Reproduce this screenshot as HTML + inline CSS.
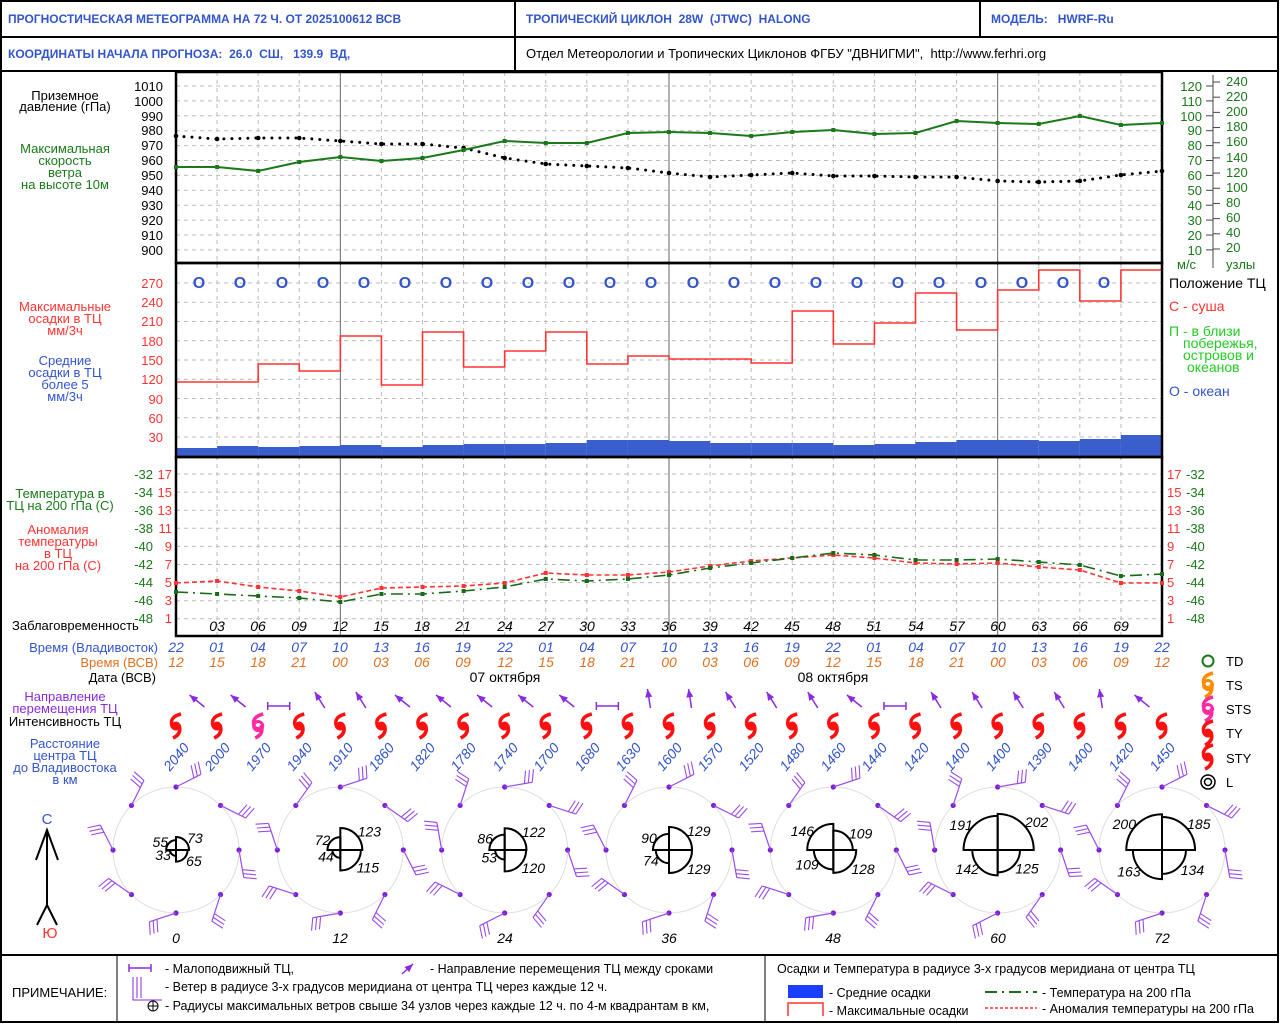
<!DOCTYPE html>
<html><head><meta charset="utf-8"><style>
body{margin:0;background:#fff}
svg{display:block;font-family:"Liberation Sans",sans-serif}
text{white-space:pre}
.b{fill:#3355cc}.g{fill:#1a7a1a}.r{fill:#ff3333}.o{fill:#e07020}.p{fill:#8a2be2}.k{fill:#000}
.hd{font-size:12px;font-weight:bold}
.t{font-size:13px}
.e{text-anchor:end}.m{text-anchor:middle}
.i{font-style:italic;font-size:14px}
</style></head><body>
<svg id="s" width="1280" height="1024" viewBox="0 0 1280 1024" xmlns="http://www.w3.org/2000/svg" xml:space="preserve">
<rect x="1" y="1" width="1277" height="1021" fill="#fff" stroke="#000" stroke-width="2"/>
<line x1="0" y1="37" x2="1278" y2="37" stroke="#000" stroke-width="2"/>
<line x1="0" y1="71" x2="1278" y2="71" stroke="#000" stroke-width="2"/>
<line x1="515" y1="0" x2="515" y2="71" stroke="#000" stroke-width="2"/>
<line x1="980" y1="0" x2="980" y2="37" stroke="#000" stroke-width="2"/>
<line x1="0" y1="955" x2="1278" y2="955" stroke="#000" stroke-width="2"/>
<line x1="117" y1="955" x2="117" y2="1022" stroke="#000" stroke-width="1"/>
<line x1="765" y1="955" x2="765" y2="1022" stroke="#000" stroke-width="1"/>
<text x="8" y="23" class="hd b">ПРОГНОСТИЧЕСКАЯ МЕТЕОГРАММА НА 72 Ч. ОТ 2025100612 ВСВ</text>
<text x="526" y="23" class="hd b">ТРОПИЧЕСКИЙ ЦИКЛОН  28W  (JTWC)  HALONG</text>
<text x="991" y="23" class="hd b">МОДЕЛЬ:   HWRF-Ru</text>
<text x="8" y="58" class="hd b">КООРДИНАТЫ НАЧАЛА ПРОГНОЗА:  26.0  СШ,   139.9  ВД,</text>
<text x="526" y="58" class="k" font-size="13">Отдел Метеорологии и Тропических Циклонов ФГБУ "ДВНИГМИ",  http://www.ferhri.org</text>
<g id="grid"></g>
<g class="t">
<text x="65" y="100" class="m k">Приземное</text><text x="65" y="111" class="m k">давление (гПа)</text>
<text x="65" y="153" class="m g">Максимальная</text><text x="65" y="165" class="m g">скорость</text><text x="65" y="177" class="m g">ветра</text><text x="65" y="189" class="m g">на высоте 10м</text>
<text x="163" y="91" class="e k">1010</text><text x="163" y="106" class="e k">1000</text><text x="163" y="121" class="e k">990</text><text x="163" y="135" class="e k">980</text><text x="163" y="150" class="e k">970</text><text x="163" y="165" class="e k">960</text><text x="163" y="180" class="e k">950</text><text x="163" y="195" class="e k">940</text><text x="163" y="210" class="e k">930</text><text x="163" y="225" class="e k">920</text><text x="163" y="240" class="e k">910</text><text x="163" y="255" class="e k">900</text>
<text x="1202" y="91" class="e g">120</text><text x="1202" y="106" class="e g">110</text><text x="1202" y="121" class="e g">100</text><text x="1202" y="135" class="e g">90</text><text x="1202" y="150" class="e g">80</text><text x="1202" y="165" class="e g">70</text><text x="1202" y="180" class="e g">60</text><text x="1202" y="195" class="e g">50</text><text x="1202" y="210" class="e g">40</text><text x="1202" y="225" class="e g">30</text><text x="1202" y="240" class="e g">20</text><text x="1202" y="255" class="e g">10</text>
<text x="1226" y="86" class="g">240</text><text x="1226" y="101" class="g">220</text><text x="1226" y="116" class="g">200</text><text x="1226" y="131" class="g">180</text><text x="1226" y="146" class="g">160</text><text x="1226" y="162" class="g">140</text><text x="1226" y="177" class="g">120</text><text x="1226" y="192" class="g">100</text><text x="1226" y="207" class="g">80</text><text x="1226" y="222" class="g">60</text><text x="1226" y="237" class="g">40</text><text x="1226" y="252" class="g">20</text>
<text x="1177" y="269" class="g">м/с</text><text x="1226" y="269" class="g">узлы</text>
<text x="1169" y="288" class="k" font-size="14">Положение ТЦ</text>
<text x="1169" y="311" class="r" font-size="14">С - суша</text>
<text x="1169" y="336" fill="#22cc22" font-size="14">П - в близи</text>
<text x="1183" y="348" fill="#22cc22" font-size="14">побережья,</text>
<text x="1183" y="360" fill="#22cc22" font-size="14">островов и</text>
<text x="1187" y="372" fill="#22cc22" font-size="14">океанов</text>
<text x="1169" y="396" class="b" font-size="14">О - океан</text>
<text x="65" y="311" class="m r">Максимальные</text><text x="65" y="323" class="m r">осадки в ТЦ</text><text x="65" y="335" class="m r">мм/3ч</text>
<text x="65" y="365" class="m b">Средние</text><text x="65" y="377" class="m b">осадки в ТЦ</text><text x="65" y="389" class="m b">более 5</text><text x="65" y="401" class="m b">мм/3ч</text>
<text x="163" y="288" class="e r">270</text><text x="163" y="307" class="e r">240</text><text x="163" y="326" class="e r">210</text><text x="163" y="346" class="e r">180</text><text x="163" y="365" class="e r">150</text><text x="163" y="384" class="e r">120</text><text x="163" y="404" class="e r">90</text><text x="163" y="423" class="e r">60</text><text x="163" y="442" class="e r">30</text>
<text x="60" y="498" class="m g">Температура в</text><text x="60" y="510" class="m g">ТЦ на 200 гПа (С)</text>
<text x="58" y="534" class="m r">Аномалия</text><text x="58" y="546" class="m r">температуры</text><text x="58" y="558" class="m r">в ТЦ</text><text x="58" y="570" class="m r">на 200 гПа (С)</text>
<text x="12" y="630" class="k">Заблаговременность</text>
<text x="158" y="652" class="e b">Время (Владивосток)</text>
<text x="158" y="667" class="e o">Время (ВСВ)</text>
<text x="156" y="682" class="e k">Дата (ВСВ)</text>
<text x="505" y="682" class="m k" font-size="14">07 октября</text>
<text x="833" y="682" class="m k" font-size="14">08 октября</text>
<text x="65" y="701" class="m p">Направление</text><text x="65" y="713" class="m p">перемещения ТЦ</text>
<text x="65" y="726" class="m k">Интенсивность ТЦ</text>
<text x="65" y="748" class="m b">Расстояние</text><text x="65" y="760" class="m b">центра ТЦ</text><text x="65" y="772" class="m b">до Владивостока</text><text x="65" y="784" class="m b">в км</text>
<text x="1226" y="666" class="k">TD</text><text x="1226" y="690" class="k">TS</text><text x="1226" y="714" class="k">STS</text><text x="1226" y="738" class="k">TY</text><text x="1226" y="763" class="k">STY</text><text x="1226" y="787" class="k">L</text>
<text x="47" y="824" class="m b" font-size="15">С</text>
<text x="50" y="938" class="m r" font-size="15">Ю</text>
<text x="12" y="997" class="k">ПРИМЕЧАНИЕ:</text>
<text x="165" y="973" class="k" font-size="12.5">- Малоподвижный ТЦ,</text>
<text x="430" y="973" class="k" font-size="12.5">- Направление перемещения ТЦ между сроками</text>
<text x="165" y="991" class="k" font-size="12.5">- Ветер в радиусе 3-х градусов меридиана от центра ТЦ через каждые 12 ч.</text>
<text x="165" y="1010" class="k" font-size="12.5">- Радиусы максимальных ветров свыше 34 узлов через каждые 12 ч. по 4-м квадрантам в км,</text>
<text x="777" y="973" class="k" font-size="12.5">Осадки и Температура в радиусе 3-х градусов меридиана от центра ТЦ</text>
<text x="829" y="997" class="k" font-size="12.5">- Средние осадки</text>
<text x="829" y="1015" class="k" font-size="12.5">- Максимальные осадки</text>
<text x="1042" y="997" class="k" font-size="12.5">- Температура на 200 гПа</text>
<text x="1042" y="1013" class="k" font-size="12.5">- Аномалия температуры на 200 гПа</text>
</g>
<g class="i" id="lbls">
<text x="217" y="631" class="m k">03</text><text x="258" y="631" class="m k">06</text><text x="299" y="631" class="m k">09</text><text x="340" y="631" class="m k">12</text><text x="381" y="631" class="m k">15</text><text x="422" y="631" class="m k">18</text><text x="463" y="631" class="m k">21</text><text x="505" y="631" class="m k">24</text><text x="546" y="631" class="m k">27</text><text x="587" y="631" class="m k">30</text><text x="628" y="631" class="m k">33</text><text x="669" y="631" class="m k">36</text><text x="710" y="631" class="m k">39</text><text x="751" y="631" class="m k">42</text><text x="792" y="631" class="m k">45</text><text x="833" y="631" class="m k">48</text><text x="874" y="631" class="m k">51</text><text x="916" y="631" class="m k">54</text><text x="957" y="631" class="m k">57</text><text x="998" y="631" class="m k">60</text><text x="1039" y="631" class="m k">63</text><text x="1080" y="631" class="m k">66</text><text x="1121" y="631" class="m k">69</text>
<text x="176" y="652" class="m b">22</text><text x="217" y="652" class="m b">01</text><text x="258" y="652" class="m b">04</text><text x="299" y="652" class="m b">07</text><text x="340" y="652" class="m b">10</text><text x="381" y="652" class="m b">13</text><text x="422" y="652" class="m b">16</text><text x="463" y="652" class="m b">19</text><text x="505" y="652" class="m b">22</text><text x="546" y="652" class="m b">01</text><text x="587" y="652" class="m b">04</text><text x="628" y="652" class="m b">07</text><text x="669" y="652" class="m b">10</text><text x="710" y="652" class="m b">13</text><text x="751" y="652" class="m b">16</text><text x="792" y="652" class="m b">19</text><text x="833" y="652" class="m b">22</text><text x="874" y="652" class="m b">01</text><text x="916" y="652" class="m b">04</text><text x="957" y="652" class="m b">07</text><text x="998" y="652" class="m b">10</text><text x="1039" y="652" class="m b">13</text><text x="1080" y="652" class="m b">16</text><text x="1121" y="652" class="m b">19</text><text x="1162" y="652" class="m b">22</text>
<text x="176" y="667" class="m o">12</text><text x="217" y="667" class="m o">15</text><text x="258" y="667" class="m o">18</text><text x="299" y="667" class="m o">21</text><text x="340" y="667" class="m o">00</text><text x="381" y="667" class="m o">03</text><text x="422" y="667" class="m o">06</text><text x="463" y="667" class="m o">09</text><text x="505" y="667" class="m o">12</text><text x="546" y="667" class="m o">15</text><text x="587" y="667" class="m o">18</text><text x="628" y="667" class="m o">21</text><text x="669" y="667" class="m o">00</text><text x="710" y="667" class="m o">03</text><text x="751" y="667" class="m o">06</text><text x="792" y="667" class="m o">09</text><text x="833" y="667" class="m o">12</text><text x="874" y="667" class="m o">15</text><text x="916" y="667" class="m o">18</text><text x="957" y="667" class="m o">21</text><text x="998" y="667" class="m o">00</text><text x="1039" y="667" class="m o">03</text><text x="1080" y="667" class="m o">06</text><text x="1121" y="667" class="m o">09</text><text x="1162" y="667" class="m o">12</text>
<text transform="translate(180,760) rotate(-50)" class="m b">2040</text><text transform="translate(221,760) rotate(-50)" class="m b">2000</text><text transform="translate(262,760) rotate(-50)" class="m b">1970</text><text transform="translate(303,760) rotate(-50)" class="m b">1940</text><text transform="translate(344,760) rotate(-50)" class="m b">1910</text><text transform="translate(385,760) rotate(-50)" class="m b">1860</text><text transform="translate(426,760) rotate(-50)" class="m b">1820</text><text transform="translate(467,760) rotate(-50)" class="m b">1780</text><text transform="translate(509,760) rotate(-50)" class="m b">1740</text><text transform="translate(550,760) rotate(-50)" class="m b">1700</text><text transform="translate(591,760) rotate(-50)" class="m b">1680</text><text transform="translate(632,760) rotate(-50)" class="m b">1630</text><text transform="translate(673,760) rotate(-50)" class="m b">1600</text><text transform="translate(714,760) rotate(-50)" class="m b">1570</text><text transform="translate(755,760) rotate(-50)" class="m b">1520</text><text transform="translate(796,760) rotate(-50)" class="m b">1480</text><text transform="translate(837,760) rotate(-50)" class="m b">1460</text><text transform="translate(878,760) rotate(-50)" class="m b">1440</text><text transform="translate(920,760) rotate(-50)" class="m b">1420</text><text transform="translate(961,760) rotate(-50)" class="m b">1400</text><text transform="translate(1002,760) rotate(-50)" class="m b">1400</text><text transform="translate(1043,760) rotate(-50)" class="m b">1390</text><text transform="translate(1084,760) rotate(-50)" class="m b">1400</text><text transform="translate(1125,760) rotate(-50)" class="m b">1420</text><text transform="translate(1166,760) rotate(-50)" class="m b">1450</text>
<text x="176" y="943" class="m k">0</text><text x="340" y="943" class="m k">12</text><text x="505" y="943" class="m k">24</text><text x="669" y="943" class="m k">36</text><text x="833" y="943" class="m k">48</text><text x="998" y="943" class="m k">60</text><text x="1162" y="943" class="m k">72</text>
</g>
<g font-size="16" font-weight="bold" class="b m">
<text x="199" y="288">O</text><text x="240" y="288">O</text><text x="282" y="288">O</text><text x="323" y="288">O</text><text x="364" y="288">O</text><text x="405" y="288">O</text><text x="446" y="288">O</text><text x="487" y="288">O</text><text x="528" y="288">O</text><text x="569" y="288">O</text><text x="610" y="288">O</text><text x="651" y="288">O</text><text x="693" y="288">O</text><text x="734" y="288">O</text><text x="775" y="288">O</text><text x="816" y="288">O</text><text x="857" y="288">O</text><text x="898" y="288">O</text><text x="939" y="288">O</text><text x="981" y="288">O</text><text x="1022" y="288">O</text><text x="1063" y="288">O</text><text x="1104" y="288">O</text>
</g>
<g class="t" id="tt">
<text x="153" y="479" class="e g">-32</text><text x="153" y="497" class="e g">-34</text><text x="153" y="515" class="e g">-36</text><text x="153" y="533" class="e g">-38</text><text x="153" y="551" class="e g">-40</text><text x="153" y="569" class="e g">-42</text><text x="153" y="587" class="e g">-44</text><text x="153" y="605" class="e g">-46</text><text x="153" y="623" class="e g">-48</text>
<text x="172" y="479" class="e r">17</text><text x="172" y="497" class="e r">15</text><text x="172" y="515" class="e r">13</text><text x="172" y="533" class="e r">11</text><text x="172" y="551" class="e r">9</text><text x="172" y="569" class="e r">7</text><text x="172" y="587" class="e r">5</text><text x="172" y="605" class="e r">3</text><text x="172" y="623" class="e r">1</text>
<text x="1167" y="479" class="r">17</text><text x="1167" y="497" class="r">15</text><text x="1167" y="515" class="r">13</text><text x="1167" y="533" class="r">11</text><text x="1167" y="551" class="r">9</text><text x="1167" y="569" class="r">7</text><text x="1167" y="587" class="r">5</text><text x="1167" y="605" class="r">3</text><text x="1167" y="623" class="r">1</text>
<text x="1186" y="479" class="g">-32</text><text x="1186" y="497" class="g">-34</text><text x="1186" y="515" class="g">-36</text><text x="1186" y="533" class="g">-38</text><text x="1186" y="551" class="g">-40</text><text x="1186" y="569" class="g">-42</text><text x="1186" y="587" class="g">-44</text><text x="1186" y="605" class="g">-46</text><text x="1186" y="623" class="g">-48</text>
</g>
<g class="i" id="rad"></g>
</svg>
<script>
const S=document.getElementById('grid'),NS='http://www.w3.org/2000/svg';
function el(t,a,p){const e=document.createElementNS(NS,t);for(const k in a)e.setAttribute(k,a[k]);(p||S).appendChild(e);return e;}
const X=h=>176+h*986/72;
const dash={stroke:'#bbb','stroke-dasharray':'4,4','stroke-width':1};
function hl(y){el('line',Object.assign({x1:176,x2:1162,y1:y,y2:y},dash));}
for(let k=0;k<12;k++)hl(86+14.9*k);
for(let k=0;k<9;k++)hl(283+19.25*k);
for(let k=0;k<9;k++)hl(474+18.1*k);
for(let h=3;h<72;h+=3){const x=X(h);if(h%24==12)el('line',{x1:x,x2:x,y1:72,y2:636,stroke:'#666','stroke-width':1});else el('line',Object.assign({x1:x,x2:x,y1:72,y2:636},dash));el('circle',{cx:x,cy:263,r:1.5,fill:'#000'});el('circle',{cx:x,cy:457,r:1.5,fill:'#000'});}
const bt=[448,446,447,446,445,447,445,444,444,443,440,440,441,443,443,443,445,444,442,440,440,441,439,435];
bt.forEach((y,i)=>el('rect',{x:X(i*3),y:y,width:X(3)-X(0),height:456-y,fill:'#3a5fcd'}));
const mx=[382,382,364,371,336,385,332,367,351,332,364,356,359,359,363,311,344,323,293,330,290,270,301,270];
let d=`M176,445 L176,${mx[0]}`;mx.forEach((y,i)=>{d+=` L${X(i*3)},${y} L${X(i*3+3)},${y}`;});
el('path',{d:d,fill:'none',stroke:'#ff3333','stroke-width':1.6});
[[72,263],[263,457],[457,636]].forEach(([a,b])=>el('rect',{x:176,y:a,width:986,height:b-a,fill:'none',stroke:'#000','stroke-width':2.5}));
const pr=[136,139,138,138,141,144,144,148,158,164,166,168,173,177,175,173,176,176,177,177,181,182,181,175,171];
let pd='';pr.forEach((y,i)=>{pd+=(i?' L':'M')+X(i*3)+','+y;});
el('path',{d:pd,fill:'none',stroke:'#000','stroke-width':3,'stroke-dasharray':'0,8','stroke-linecap':'round'});
pr.forEach((y,i)=>el('circle',{cx:X(i*3),cy:y,r:2.3,fill:'#000'}));
const wd=[167,167,171,162,157,161,158,150,141,143,143,133,132,133,136,132,130,134,133,121,123,124,116,125,123];
let wp='';wd.forEach((y,i)=>{wp+=(i?' L':'M')+X(i*3)+','+y;});
el('path',{d:wp,fill:'none',stroke:'#1a7a1a','stroke-width':2});
wd.forEach((y,i)=>el('rect',{x:X(i*3)-2,y:y-2,width:4,height:4,fill:'#1a7a1a'}));
const tg=[592,594,596,598,602,594,594,591,587,579,581,579,575,568,563,558,553,555,560,560,559,562,565,576,574];
const ta=[583,581,587,591,597,588,587,586,583,573,575,575,572,566,561,558,555,558,563,564,563,567,570,583,583];
let a1='',a2='';tg.forEach((y,i)=>{a1+=(i?' L':'M')+X(i*3)+','+y;});ta.forEach((y,i)=>{a2+=(i?' L':'M')+X(i*3)+','+y;});
el('path',{d:a2,fill:'none',stroke:'#ff3333','stroke-width':1.6,'stroke-dasharray':'5,3'});
el('path',{d:a1,fill:'none',stroke:'#1a6a1a','stroke-width':1.6,'stroke-dasharray':'12,5,2,5'});
ta.forEach((y,i)=>el('rect',{x:X(i*3)-2,y:y-2,width:4,height:4,fill:'#ff3333'}));
tg.forEach((y,i)=>el('rect',{x:X(i*3)-2,y:y-2,width:4,height:4,fill:'#1a6a1a'}));
el('line',{x1:1213,x2:1213,y1:75,y2:268,stroke:'#444'});
for(let k=0;k<12;k++){el('line',{x1:1206,x2:1213,y1:86+14.9*k,y2:86+14.9*k,stroke:'#444'});}
for(let k=0;k<12;k++){const y=249-(220-20*k)/220*167;el('line',{x1:1213,x2:1220,y1:y,y2:y,stroke:'#444'});}
function arrow(x1,y1,x2,y2,c){el('line',{x1,y1,x2,y2,stroke:c,'stroke-width':1.5});const a=Math.atan2(y2-y1,x2-x1);
el('path',{d:`M${x2},${y2} L${x2-9*Math.cos(a-0.4)},${y2-9*Math.sin(a-0.4)} L${x2-9*Math.cos(a+0.4)},${y2-9*Math.sin(a+0.4)}Z`,fill:c});}
const pc='#8a2be2';
for(let k=0;k<24;k++){const x=X(k*3+1.5);
 if(k==2||k==10||k==17){el('line',{x1:x-11,x2:x+11,y1:706,y2:706,stroke:pc,'stroke-width':1.5});el('path',{d:`M${x-11},702 L${x-11},710 M${x+11},702 L${x+11},710`,stroke:pc,'stroke-width':1.5});}
 else{const vert=(k==11||k==12||k==22);const tl=[3,4,13,14,15,18,19,20,21].includes(k);
 if(vert)arrow(x+2,708,x-1,689,pc);else if(tl)arrow(x+5,708,x-5,692,pc);else arrow(x+8,707,x-7,695,pc);}}
function cyc(x,y,c,filled){el('path',{d:`M${x+5},${y-12} Q${x-7},${y-9} ${x-4},${y} Q${x-2},${y+4} ${x+2},${y+2}`,fill:'none',stroke:c,'stroke-width':3.5});
 el('path',{d:`M${x+3},${y-1} Q${x+6},${y+8} ${x-3},${y+12}`,fill:'none',stroke:c,'stroke-width':3.5});
 if(filled)el('circle',{cx:x,cy:y,r:4.5,fill:c});else el('circle',{cx:x,cy:y,r:4.5,fill:'none',stroke:c,'stroke-width':3});}
for(let k=0;k<25;k++){cyc(X(k*3),726,k==2?'#ff2aa0':'#ff1010',k!=2);}
el('circle',{cx:1208,cy:661,r:5.5,fill:'none',stroke:'#1a7a1a','stroke-width':2});
cyc(1208,685,'#ff8c00',false);cyc(1208,709,'#ff2aa0',false);cyc(1208,733,'#ff1010',true);cyc(1208,757,'#ff1010',true);
el('circle',{cx:1208,cy:782,r:7,fill:'none',stroke:'#000','stroke-width':1.5});el('circle',{cx:1208,cy:782,r:3.5,fill:'none',stroke:'#000','stroke-width':1.5});
el('line',{x1:47,x2:47,y1:830,y2:905,stroke:'#000','stroke-width':2});
el('path',{d:'M36,860 L47,830 L58,860',fill:'none',stroke:'#000','stroke-width':2});
el('path',{d:'M37,925 L47,905 L57,925',fill:'none',stroke:'#000','stroke-width':2});
const R=document.getElementById('rad');
const rd=[[73,65,33,55],[123,115,44,72],[122,120,53,86],[129,129,74,90],[109,128,109,146],[202,125,142,191],[185,134,163,200]];
for(let j=0;j<7;j++){const cx=X(j*12),cy=850;
 el('circle',{cx,cy,r:63,fill:'none',stroke:'#ddd','stroke-width':1});
 for(let q=0;q<8;q++){const an=q*Math.PI/4;const px=cx+63*Math.sin(an),py=cy-63*Math.cos(an);
  el('circle',{cx:px,cy:py,r:2.6,fill:'#7a1fd6'});
  const bd=an+Math.PI*0.35+((j+q)%3)*0.15;const L=28;const ex=px+L*Math.sin(bd),ey=py-L*Math.cos(bd);
  el('line',{x1:px,y1:py,x2:ex,y2:ey,stroke:'#9a4de8','stroke-width':1.2});
  const fa=bd-Math.PI/2.4;
  for(let f=0;f<3;f++){const bx=px+(L-f*4)*Math.sin(bd),by=py-(L-f*4)*Math.cos(bd);
   el('line',{x1:bx,y1:by,x2:bx+13*Math.sin(fa),y2:by-13*Math.cos(fa),stroke:'#9a4de8','stroke-width':1.1});}}
 const r=rd[j].map(v=>v/5.6);
 el('line',{x1:cx-r[3],x2:cx+r[0],y1:cy,y2:cy,stroke:'#333'});el('line',{x1:cx,x2:cx,y1:cy-Math.max(r[0],r[3]),y2:cy+Math.max(r[1],r[2]),stroke:'#333'});
 const arc=(rr,a0)=>{const s=[cx+rr*Math.sin(a0),cy-rr*Math.cos(a0)],e=[cx+rr*Math.sin(a0+Math.PI/2),cy-rr*Math.cos(a0+Math.PI/2)];
  el('path',{d:`M${cx},${cy} L${s[0]},${s[1]} A${rr},${rr} 0 0 1 ${e[0]},${e[1]} Z`,fill:'none',stroke:'#000','stroke-width':2});};
 arc(r[0],0);arc(r[1],Math.PI/2);arc(r[2],Math.PI);arc(r[3],Math.PI*1.5);
 const t=(x,y,s,an)=>{const e=el('text',{x,y,'text-anchor':an,fill:'#000'},R);e.textContent=s;};
 t(cx+r[0]*0.7+2,cy-r[0]*0.7+2,rd[j][0],'start');t(cx+r[1]*0.7+2,cy+r[1]*0.7+8,rd[j][1],'start');
 t(cx-r[2]*0.7-1,cy+r[2]*0.7+6,rd[j][2],'end');t(cx-r[3]*0.7-1,cy-r[3]*0.7+4,rd[j][3],'end');}
el('line',{x1:129,x2:151,y1:968,y2:968,stroke:pc,'stroke-width':1.5});el('path',{d:'M129,964 L129,972 M151,964 L151,972',stroke:pc,'stroke-width':1.5});
arrow(402,974,413,964,pc);
el('path',{d:'M133,977 L133,1000 L162,1000',fill:'none',stroke:pc});el('line',{x1:137,x2:137,y1:977,y2:998,stroke:pc});el('line',{x1:141,x2:141,y1:977,y2:998,stroke:pc});
el('circle',{cx:153,cy:1006,r:5,fill:'none',stroke:'#000'});el('line',{x1:148,x2:158,y1:1006,y2:1006,stroke:'#000'});el('line',{x1:153,x2:153,y1:1001,y2:1011,stroke:'#000'});
el('rect',{x:788,y:985,width:35,height:13,fill:'#1a3fff'});
el('path',{d:'M788,1016 L788,1003 L823,1003 L823,1016',fill:'none',stroke:'#ff3333','stroke-width':1.5});
el('line',{x1:985,x2:1037,y1:992,y2:992,stroke:'#1a6a1a','stroke-width':2,'stroke-dasharray':'12,5,2,5'});
el('line',{x1:985,x2:1037,y1:1008,y2:1008,stroke:'#ff3333','stroke-width':1.5,'stroke-dasharray':'3,2'});
</script>
</body></html>
